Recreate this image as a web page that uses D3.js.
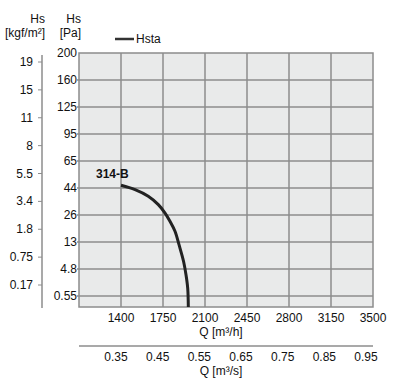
<!DOCTYPE html>
<html>
<head>
<meta charset="utf-8">
<script src="https://cdn.jsdelivr.net/npm/d3@7"></script>
<style>
  body { margin: 0; background: #fff; }
  svg text { font-family: "Liberation Sans", Arial, sans-serif; fill: #111; }
</style>
</head>
<body>
<div id="chart"></div>
<script>
// pressure ticks (Pa) - the chart puts them at equal spacing
var paTicks = [0.55, 4.8, 13, 26, 44, 65, 95, 125, 160, 200];
// kgf/m2 ticks on the outer axis
var kgfTicks = ["0.17", "0.75", "1.8", "3.4", "5.5", "8", "11", "15", "19"];
// flow ticks
var qhTicks = [1400, 1750, 2100, 2450, 2800, 3150, 3500];
var qsTicks = [0.35, 0.45, 0.55, 0.65, 0.75, 0.85, 0.95];

// curve 314-B
var curveQ = [1400, 1517, 1627, 1711, 1767, 1808, 1850, 1884, 1922, 1942, 1956, 1961];
var curveP = [46.1, 42.9, 38.5, 32.9, 27.3, 23.0, 18.2, 12.1, 7.0, 3.86, 1.76, 0];

var W = 401, H = 388;
var plot = { left: 79, right: 373, top: 53, bottom: 307 };

var svg = d3.select("#chart").append("svg")
    .attr("width", W)
    .attr("height", H);

// x scales
var x = d3.scaleLinear().domain([1050, 3500]).range([plot.left, plot.right]);
var xs = d3.scaleLinear().domain([0.35, 0.95]).range([116, 366]);

// y: piecewise, equal steps between the labelled values
var step = 27;
var yDomain = [0].concat(paTicks);
var yRange = [plot.bottom].concat(paTicks.map(function(d, i){ return 296 - i * step; }));
yRange[yRange.length - 1] = plot.top;
var y = d3.scaleLinear().domain(yDomain).range(yRange);

var yk = d3.scalePoint().domain(kgfTicks).range([285, 62]);

// plot background
svg.append("rect")
    .attr("x", plot.left)
    .attr("y", plot.top)
    .attr("width", plot.right - plot.left)
    .attr("height", plot.bottom - plot.top)
    .attr("fill", "#e9eaea")
    .attr("stroke", "#8c8c8c")
    .attr("stroke-width", 1.5);

// grid
svg.append("g").selectAll("line.v")
    .data(qhTicks.slice(0, -1))
    .enter().append("line")
    .attr("x1", function(d){ return x(d); })
    .attr("x2", function(d){ return x(d); })
    .attr("y1", plot.top)
    .attr("y2", plot.bottom)
    .attr("stroke", "#8c8c8c")
    .attr("stroke-width", 1.5);

svg.append("g").selectAll("line.h")
    .data(paTicks.slice(0, -1))
    .enter().append("line")
    .attr("x1", plot.left - 2)
    .attr("x2", plot.right)
    .attr("y1", function(d){ return y(d); })
    .attr("y2", function(d){ return y(d); })
    .attr("stroke", "#8c8c8c")
    .attr("stroke-width", 1.5);

// Pa labels
svg.append("g").selectAll("text")
    .data(paTicks)
    .enter().append("text")
    .attr("x", 77)
    .attr("y", function(d){ return y(d) + 4; })
    .attr("text-anchor", "end")
    .attr("font-size", 12)
    .text(function(d){ return d; });

// kgf axis
var ka = svg.append("g");
ka.append("line")
    .attr("x1", 42).attr("x2", 42)
    .attr("y1", 55).attr("y2", plot.bottom + 1)
    .attr("stroke", "#8c8c8c")
    .attr("stroke-width", 1.5);
ka.selectAll("line.t")
    .data(kgfTicks)
    .enter().append("line")
    .attr("x1", 38).attr("x2", 42)
    .attr("y1", function(d){ return yk(d); })
    .attr("y2", function(d){ return yk(d); })
    .attr("stroke", "#8c8c8c");
ka.selectAll("text")
    .data(kgfTicks)
    .enter().append("text")
    .attr("x", 33)
    .attr("y", function(d){ return yk(d) + 4; })
    .attr("text-anchor", "end")
    .attr("font-size", 12)
    .text(function(d){ return d; });

// headers
var hdr = [["Hs", 45, 23], ["[kgf/m²]", 45, 37], ["Hs", 81, 23], ["[Pa]", 81, 37]];
svg.append("g").selectAll("text")
    .data(hdr)
    .enter().append("text")
    .attr("x", function(d){ return d[1]; })
    .attr("y", function(d){ return d[2]; })
    .attr("text-anchor", "end")
    .attr("font-size", 12)
    .text(function(d){ return d[0]; });

// legend
svg.append("line")
    .attr("x1", 115).attr("x2", 134)
    .attr("y1", 39).attr("y2", 39)
    .attr("stroke", "#333")
    .attr("stroke-width", 2.5);
svg.append("text")
    .attr("x", 136).attr("y", 43)
    .attr("font-size", 12)
    .text("Hsta");

// bottom axis m3/h
svg.append("g").selectAll("text")
    .data(qhTicks)
    .enter().append("text")
    .attr("x", function(d){ return x(d); })
    .attr("y", 322)
    .attr("text-anchor", "middle")
    .attr("font-size", 12)
    .text(function(d){ return d; });
svg.append("text")
    .attr("x", 221).attr("y", 336)
    .attr("text-anchor", "middle")
    .attr("font-size", 12)
    .text("Q [m³/h]");

// second axis m3/s
svg.append("line")
    .attr("x1", plot.left).attr("x2", plot.right)
    .attr("y1", 346).attr("y2", 346)
    .attr("stroke", "#8c8c8c")
    .attr("stroke-width", 1.5);
svg.append("g").selectAll("text")
    .data(qsTicks)
    .enter().append("text")
    .attr("x", function(d){ return xs(d); })
    .attr("y", 361)
    .attr("text-anchor", "middle")
    .attr("font-size", 12)
    .text(function(d){ return d3.format(".2f")(d); });
svg.append("text")
    .attr("x", 221).attr("y", 375)
    .attr("text-anchor", "middle")
    .attr("font-size", 12)
    .text("Q [m³/s]");

// curve
var pts = curveQ.map(function(q, i){ return [q, curveP[i]]; });
var line = d3.line()
    .x(function(d){ return x(d[0]); })
    .y(function(d){ return y(d[1]); })
    .curve(d3.curveCatmullRom.alpha(0.5));
svg.append("path")
    .datum(pts)
    .attr("d", line)
    .attr("fill", "none")
    .attr("stroke", "#222")
    .attr("stroke-width", 3);

svg.append("text")
    .attr("x", 96).attr("y", 178)
    .attr("font-size", 12)
    .attr("font-weight", "bold")
    .text("314-B");
</script>
</body>
</html>
